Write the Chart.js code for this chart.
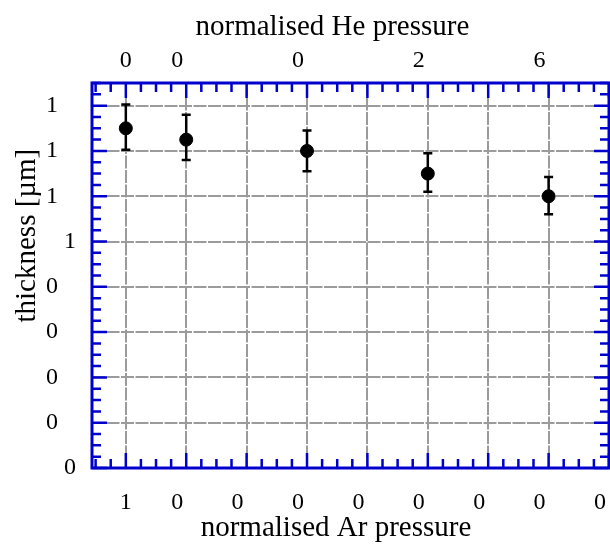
<!DOCTYPE html>
<html>
<head>
<meta charset="utf-8">
<script src="https://cdn.jsdelivr.net/npm/chart.js@4.4.1/dist/chart.umd.min.js"></script>
<style>
  html, body { margin:0; padding:0; background:#fff; }
  canvas { display:block; }
</style>
</head>
<body>
<canvas id="chart" width="610" height="556"></canvas>
<script>
// data
const arPressure = [1.0, 0.9, 0.7, 0.5, 0.3];
const thickness  = [1.50, 1.45, 1.40, 1.30, 1.20];
const errUp      = [0.105, 0.11, 0.09, 0.09, 0.085];
const errDown    = [0.095, 0.09, 0.09, 0.08, 0.08];
const heLabels   = ["0", "0", "0", "2", "6"];

const arTicks      = [1.0, 0.9, 0.8, 0.7, 0.6, 0.5, 0.4, 0.3, 0.2];
const arTickLabels = ["1", "0", "0", "0", "0", "0", "0", "0", "0"];
const yTicks       = [0, 0.2, 0.4, 0.6, 0.8, 1.0, 1.2, 1.4, 1.6];
const yTickLabels  = ["0", "0", "0", "0", "0", "1", "1", "1", "1"];

const FONT = "'Liberation Serif', 'Times New Roman', serif";
const BLUE = "#0000cc";
const NBSP = "\u00a0";

// truncated labels keep the room of their decimals
const pad = v => Number.isInteger(v) ? "" : NBSP.repeat(3);

// x axes reach the canvas edge, no room for label overhang
const noSidePad = (s, h) => { s.height = h; s.paddingLeft = 0; s.paddingRight = 0; };

/* error bars */
const errorBars = {
  id: "errorBars",
  beforeDatasetsDraw(chart) {
    const { ctx, scales:{ x, y } } = chart;
    ctx.save();
    ctx.strokeStyle = "#000";
    ctx.lineWidth = 2.5;
    arPressure.forEach((a, i) => {
      const px = x.getPixelForValue(a);
      const top = y.getPixelForValue(thickness[i] + errUp[i]);
      const bot = y.getPixelForValue(thickness[i] - errDown[i]);
      ctx.beginPath();
      ctx.moveTo(px, top); ctx.lineTo(px, bot);
      ctx.moveTo(px - 4.5, top); ctx.lineTo(px + 4.5, top);
      ctx.moveTo(px - 4.5, bot); ctx.lineTo(px + 4.5, bot);
      ctx.stroke();
    });
    ctx.restore();
  }
};

/* blue frame with inward ticks */
const frameTicks = {
  id: "frameTicks",
  afterDraw(chart) {
    const { ctx, chartArea:a, scales:{ x, y } } = chart;
    ctx.save();
    ctx.strokeStyle = BLUE;
    ctx.lineWidth = 2.5;
    ctx.beginPath();
    for (let i = 0; x.max >= 0.2 + i * 0.025 - 1e-9; i++) {
      const px = x.getPixelForValue(0.2 + i * 0.025);
      const len = i % 4 === 0 ? 15 : 9;
      ctx.moveTo(px, a.bottom); ctx.lineTo(px, a.bottom - len);
      ctx.moveTo(px, a.top); ctx.lineTo(px, a.top + len);
    }
    for (let i = 0; y.max >= i * 0.05 - 1e-9; i++) {
      const py = y.getPixelForValue(i * 0.05);
      const len = i % 4 === 0 ? 15 : 9;
      ctx.moveTo(a.left, py); ctx.lineTo(a.left + len, py);
      ctx.moveTo(a.right, py); ctx.lineTo(a.right - len, py);
    }
    ctx.stroke();
    ctx.lineWidth = 3;
    ctx.strokeRect(a.left, a.top, a.right - a.left, a.bottom - a.top);
    ctx.restore();
  }
};

Chart.defaults.color = "#000";
Chart.defaults.font.family = FONT;

new Chart(document.getElementById("chart"), {
  type: "scatter",
  data: {
    datasets: [{
      data: arPressure.map((a, i) => ({ x:a, y:thickness[i] })),
      backgroundColor: "#000",
      borderColor: "#000",
      pointRadius: 6.5,
      pointHoverRadius: 6.5
    }]
  },
  options: {
    responsive: false,
    animation: false,
    layout: { autoPadding: false, padding: { right: 1 } },
    plugins: { legend:{ display:false }, tooltip:{ enabled:false } },
    scales: {
      x: {
        position: "bottom",
        reverse: true,
        min: 0.2, max: 1.056,
        afterBuildTicks: s => { s.ticks = arTicks.map(v => ({ value:v })); },
        afterFit: s => noSidePad(s, 88),
        ticks: {
          autoSkip: false, maxRotation: 0, padding: 0,
          font: { size:24, lineHeight:2.875 },
          callback: (v, i) => arTickLabels[i] + pad(v)
        },
        grid: { color:"#9b9b9b", lineWidth:2, drawTicks:false },
        border: { display:false, dash:[13, 1.5] },
        title: {
          display: true,
          text: "normalised Ar pressure" + NBSP.repeat(4),
          font: { size:29 },
          padding: { top:0, bottom:10 }
        }
      },
      x2: {
        position: "top",
        reverse: true,
        min: 0.2, max: 1.056,
        afterBuildTicks: s => { s.ticks = arTicks.map(v => ({ value:v })); },
        afterFit: s => noSidePad(s, 83),
        ticks: {
          autoSkip: false, maxRotation: 0, padding: 0,
          font: { size:24, lineHeight:1.833 },
          callback: v => {
            const i = arPressure.indexOf(v);
            return i < 0 ? "" : heLabels[i] + pad(v);
          }
        },
        grid: { display:false, drawTicks:false },
        border: { display:false },
        title: {
          display: true,
          text: "normalised He pressure" + NBSP.repeat(5),
          font: { size:29 },
          padding: { top:10, bottom:0 }
        }
      },
      y: {
        min: 0, max: 1.7,
        afterBuildTicks: s => { s.ticks = yTicks.map(v => ({ value:v })); },
        afterFit: s => { s.width = 92; },
        ticks: {
          autoSkip: false, padding: 16,
          font: { size:24 },
          callback: (v, i) => yTickLabels[i] + pad(v)
        },
        grid: { color:"#9b9b9b", lineWidth:2, drawTicks:false },
        border: { display:false, dash:[13, 1.5] },
        title: {
          display: true,
          text: NBSP.repeat(11) + "thickness [µm]",
          font: { size:29 },
          padding: { top:10, bottom:0 }
        }
      }
    }
  },
  plugins: [errorBars, frameTicks]
});
</script>
</body>
</html>
